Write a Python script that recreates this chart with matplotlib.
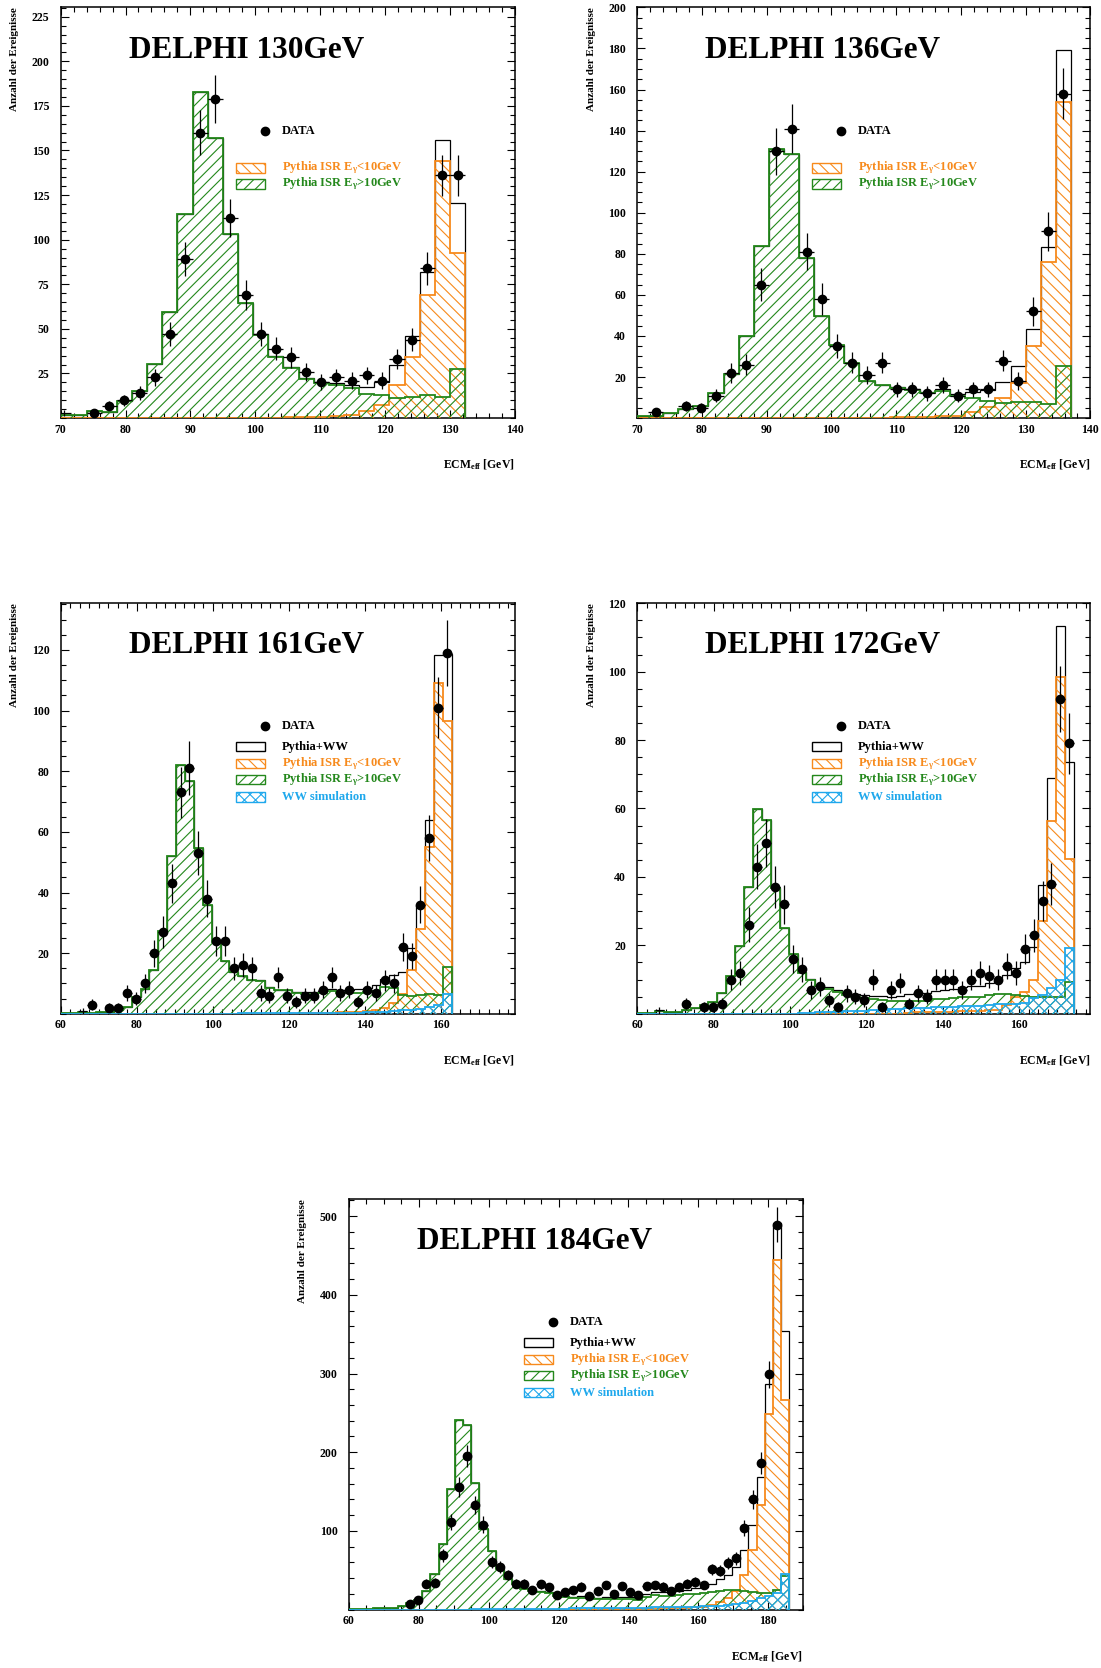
import numpy as np
import matplotlib
matplotlib.use("Agg")
import matplotlib.pyplot as plt
from matplotlib.ticker import MultipleLocator, FixedLocator
from matplotlib.patches import Rectangle

nan = np.nan

# common binning: edges at 60 GeV + k * 7/3 GeV
BIN_LO = 60.0
BIN_W = 7.0 / 3.0

# --- DELPHI 130 GeV (bins k = 4 .. 30) ---
first130 = 4
green130 = [1.5, 1.8, 3.9, 3.4, 9.5, 15.0, 30.6, 59.3, 114.5, 182.6, 157.0, 103.0, 64.5,
            46.8, 34.3, 28.0, 21.8, 19.6, 18.8, 16.8, 13.6, 12.9, 11.0, 11.8, 12.7, 12.0, 27.8]
orange130 = [0] * 13 + [0.2, 0.3, 0.4, 0.6, 0.8, 1.0, 1.5, 4.0, 7.3, 18.8, 34.0, 69.0, 144.0, 92.5]
data130 = [3, nan, 3, 7, 10, 14, 23, 47, 89, 160, 179, 112, 69, 47, 39, 34, 26, 20, 23, 21,
           24, 21, 33, 44, 84, 136, 136]
nomark130 = [0]

# --- DELPHI 136 GeV (bins k = 4 .. 32) ---
first136 = 4
green136 = [1, 1, 2.3, 4.5, 6, 12.3, 21.7, 40, 84, 131, 128.4, 77.8, 49.6, 35.8, 26.7, 18.3,
            15.9, 14.7, 13.6, 12.3, 13.1, 10.7, 9.9, 8.3, 7.5, 8, 8, 7.1, 25.4]
orange136 = [0] * 17 + [0.3, 0.5, 0.5, 1.0, 1.2, 3.0, 5.5, 10.0, 17.2, 35.3, 76.0, 154.0]
data136 = [nan, 3, nan, 6, 5, 11, 22, 26, 65, 130, 141, 81, 58, 35, 27, 21, 27, 14, 14, 12,
           16, 11, 14, 14, 28, 18, 52, 91, 158]
nomark136 = []

# --- DELPHI 161 GeV (bins k = 0 .. 43) ---
first161 = 0
green161 = [0.3, 0.3, 0.5, 0.4, 0.5, 0.7, 1.2, 2.4, 5.4, 8.2,
            14.3, 27.2, 52.2, 82.0, 76.7, 54.8, 35.8, 23.7, 17.5, 13.8,
            12.5, 11.1, 10.9, 8.6, 7.7, 7.7, 6.9, 6.6, 6.6, 6.9,
            7.5, 7.0, 7.0, 7.0, 7.2, 7.6, 8.8, 8.5, 6.3, 6.0,
            6.3, 6.6, 6.3, 15.5]
orange161 = [0] * 27 + [0.2, 0.3, 0.3, 0.4, 0.5, 0.6, 0.7, 0.8, 1.3, 1.9, 3.5, 6.5, 14.5,
                        28.0, 55.0, 109.0, 96.6]
ww161 = [0] * 20 + [0.1, 0.1, 0.15, 0.15, 0.2, 0.2, 0.2, 0.25, 0.25, 0.3, 0.3, 0.3, 0.4, 0.4,
                    0.5, 0.5, 0.7, 0.9, 1.1, 1.3, 1.6, 2.3, 3.0, 6.5]
data161 = [nan, nan, 1, 3, nan, 2, 2, 7, 5, 10,
           20, 27, 43, 73, 81, 53, 38, 24, 24, 15,
           16, 15, 7, 6, 12, 6, 4, 6, 6, 8,
           12, 7, 8, 4, 8, 7, 11, 10, 22, 19,
           36, 58, 101, 119]
nomark161 = [2]

# --- DELPHI 172 GeV (bins k = 0 .. 48) ---
first172 = 0
green172 = [0.2, 0.3, 0.8, 0.5, 0.6, 1.0, 1.6, 2.5, 3.5, 6.0,
            11.0, 19.7, 37.0, 59.8, 56.6, 36.8, 25.0, 17.6, 12.0, 10.0,
            8.0, 7.2, 6.5, 5.5, 4.9, 4.6, 4.3, 4.1, 3.6, 3.7,
            3.8, 3.8, 3.8, 4.4, 4.4, 4.6, 4.9, 5.0, 4.8, 5.5,
            5.7, 5.7, 5.5, 5.2, 5.0, 4.8, 5.0, 5.0, 9.4]
orange172 = [0] * 30 + [0.3, 0.4, 0.5, 0.5, 0.6, 0.6, 0.7, 0.8, 0.9, 1.0, 1.2, 2.6, 5.0, 6.5,
                        10.0, 27.2, 56.4, 98.5, 45.2]
ww172 = [0] * 18 + [0.2, 0.3, 0.4, 0.5, 0.6, 0.7, 0.8, 0.9, 1.0, 1.2, 1.3, 1.5, 1.6, 1.7, 1.8,
                    1.9, 2.0, 2.1, 2.2, 2.3, 2.4, 2.6, 2.8, 3.0, 3.0, 3.3, 4.6, 5.5, 7.5, 9.9, 19.1]
data172 = [nan, nan, 1, nan, nan, 3, nan, 2, 2, 3,
           10, 12, 26, 43, 50, 37, 32, 16, 13, 7,
           8, 4, 2, 6, 5, 4, 10, 2, 7, 9,
           3, 6, 5, 10, 10, 10, 7, 10, 12, 11,
           10, 14, 12, 19, 23, 33, 38, 92, 79]
nomark172 = [2]

# --- DELPHI 184 GeV (bins k = 0 .. 53) ---
first184 = 0
green184 = [1.0, 0.3, 1.0, 1.5, 2.5, 2.5, 4.6, 8.0, 12.0, 24.0,
            45.0, 83.0, 153.0, 241.0, 234.0, 161.0, 102.0, 74.5, 51.0, 38.5,
            32.0, 26.0, 23.7, 22.4, 21.6, 17.3, 16.5, 15.2, 15.2, 14.4,
            13.5, 13.5, 13.0, 13.0, 13.0, 12.7, 16.0, 18.0, 17.7, 17.3,
            18.0, 19.5, 20.3, 21.6, 22.0, 23.7, 24.5, 25.0, 24.0, 22.0,
            21.0, 21.0, 25.4, 43.0]
orange184 = [0] * 31 + [0.5, 0.6, 0.7, 0.8, 0.9, 1.0, 1.2, 1.5, 1.8, 2.0, 2.5, 3.0, 3.5,
                        6.0, 10.0, 14.0, 23.0, 43.6, 75.4, 132.5, 248.5, 444.5, 266.7]
ww184 = [0] * 15 + [0.2, 0.3, 0.3, 0.4, 0.5, 0.6, 0.7, 0.8, 0.9, 1.0, 1.1, 1.2, 1.3, 1.4, 1.5,
                    1.6, 1.7, 1.8, 1.9, 2.0, 2.2, 2.4, 2.6, 2.8, 3.0, 3.2, 3.4, 3.7, 4.0,
                    4.6, 5.0, 5.5, 6.4, 8.5, 10.6, 14.8, 17.0, 21.0, 44.5]
data184 = [nan] * 7 + [7, 12, 33, 34, 69, 111, 156, 195, 133, 108,
                       60, 54, 44, 33, 33, 25, 32, 28, 19, 22,
                       25, 29, 17, 23, 31, 20, 30, 22, 19, 30,
                       31, 29, 23, 28, 33, 35, 31, 51, 49, 59,
                       65, 103, 140, 186, 299, 489] + [nan]
nomark184 = []

ORANGE = "#F78A1C"
GREEN = "#24881C"
CYAN = "#1FA8EC"

plt.rcParams["font.family"] = ["Liberation Serif", "DejaVu Serif"]
plt.rcParams["font.weight"] = "bold"
plt.rcParams["mathtext.fontset"] = "custom"
plt.rcParams["mathtext.rm"] = "Liberation Serif:bold"
plt.rcParams["mathtext.it"] = "Liberation Serif:bold"
plt.rcParams["mathtext.bf"] = "Liberation Serif:bold"
plt.rcParams["hatch.linewidth"] = 0.8

W, H = 1101, 1668
fig = plt.figure(figsize=(W / 100, H / 100), dpi=100)


def add_axes(x0, y0, x1, y1):
    return fig.add_axes([x0 / W, 1 - y1 / H, (x1 - x0) / W, (y1 - y0) / H])


def draw_legend(ax, with_ww):
    rows = [("DATA", "k", None, None)]
    if with_ww:
        rows.append(("Pythia+WW", "k", "k", ""))
    rows.append((r"Pythia ISR E$_{\gamma}$<10GeV", ORANGE, ORANGE, "\\\\\\"))
    rows.append((r"Pythia ISR E$_{\gamma}$>10GeV", GREEN, GREEN, "///"))
    if with_ww:
        rows.append(("WW simulation", CYAN, CYAN, "xxx"))
    ys = [0.700, 0.650, 0.609, 0.570, 0.528] if with_ww else [0.700, 0.609, 0.570]
    for (label, tcol, ecol, hatch), y in zip(rows, ys):
        if ecol is None:
            ax.plot([0.45], [y], "o", color="k", ms=6, transform=ax.transAxes, clip_on=False)
        else:
            ax.add_patch(Rectangle((0.385, y - 0.011), 0.065, 0.022, transform=ax.transAxes,
                                   facecolor="none", edgecolor=ecol, hatch=hatch or None, lw=1.0))
        ax.text(0.487, y, label, transform=ax.transAxes, ha="left", va="center",
                color=tcol, fontsize=9, fontweight="bold")


def draw_panel(ax, first, green, orange, ww, data, nomark, title,
               xlim, ylim, xstep, xminor, ystep, yminor):
    green = np.asarray(green, float)
    orange = np.asarray(orange, float)
    data = np.asarray(data, float)
    edges = BIN_LO + BIN_W * (first + np.arange(len(green) + 1))
    centers = 0.5 * (edges[:-1] + edges[1:])
    total = green + orange
    if ww is not None:
        ww = np.asarray(ww, float)
        total = total + ww

    ax.stairs(total, edges, baseline=0, fill=False, color="k", lw=0.9, zorder=2)
    ax.stairs(orange, edges, baseline=0, fill=True, facecolor="none", edgecolor=ORANGE,
              hatch="\\\\\\", lw=1.3, zorder=3)
    ax.stairs(green, edges, baseline=0, fill=True, facecolor="none", edgecolor=GREEN,
              hatch="///", lw=1.3, zorder=4)
    if ww is not None:
        ax.stairs(ww, edges, baseline=0, fill=True, facecolor="none", edgecolor=CYAN,
                  hatch="xxx", lw=1.3, zorder=5)

    ok = ~np.isnan(data)
    ax.errorbar(centers[ok], data[ok], xerr=BIN_W / 2, yerr=np.sqrt(data[ok]), fmt="none",
                ecolor="k", elinewidth=0.9, capsize=0, zorder=6)
    mark = ok.copy()
    mark[nomark] = False
    ax.plot(centers[mark], data[mark], "o", color="k", ms=6, zorder=7)

    ax.set_xlim(*xlim)
    ax.set_ylim(*ylim)
    ax.xaxis.set_major_locator(MultipleLocator(xstep))
    ax.xaxis.set_minor_locator(MultipleLocator(xminor))
    ax.yaxis.set_major_locator(FixedLocator(np.arange(ystep, ylim[1] + 0.01, ystep)))
    ax.yaxis.set_minor_locator(MultipleLocator(yminor))
    ax.tick_params(which="both", direction="in", top=True, right=True, width=0.8)
    ax.tick_params(which="major", length=6, labelsize=8.5)
    ax.tick_params(which="minor", length=3.5)
    ax.tick_params(axis="y", pad=8)
    ax.tick_params(axis="x", pad=4)
    for lab in ax.get_xticklabels() + ax.get_yticklabels():
        lab.set_fontweight("bold")
    for sp in ax.spines.values():
        sp.set_linewidth(1.1)

    ax.text(0.15, 0.896, title, transform=ax.transAxes, ha="left", va="center",
            fontsize=22.5, fontweight="bold")
    ax.annotate("Anzahl der Ereignisse", xy=(0, 1), xycoords="axes fraction",
                xytext=(-46 * 0.72, 0), textcoords="offset points", rotation=90,
                ha="center", va="top", fontsize=8, fontweight="bold")
    ax.annotate(r"ECM$_{\rm eff}$ [GeV]", xy=(1, 0), xycoords="axes fraction",
                xytext=(0, -47 * 0.72), textcoords="offset points",
                ha="right", va="center", fontsize=8.5, fontweight="bold")
    draw_legend(ax, ww is not None)


ax1 = add_axes(60.6, 7.4, 514.9, 418.1)
draw_panel(ax1, first130, green130, orange130, None, data130, nomark130, "DELPHI 130GeV",
           (70, 140), (0, 230.2), 10, 2, 25, 5)

ax2 = add_axes(637.2, 7.4, 1090.4, 418.1)
draw_panel(ax2, first136, green136, orange136, None, data136, nomark136, "DELPHI 136GeV",
           (70, 140), (0, 200), 10, 2, 20, 5)

ax3 = add_axes(60.6, 603.2, 514.9, 1013.8)
draw_panel(ax3, first161, green161, orange161, ww161, data161, nomark161, "DELPHI 161GeV",
           (60, 179.3), (0, 135.4), 20, 2.5, 20, 5)

ax4 = add_axes(637.2, 603.2, 1090.4, 1013.8)
draw_panel(ax4, first172, green172, orange172, ww172, data172, nomark172, "DELPHI 172GeV",
           (60, 178.7), (0, 120), 20, 2.5, 20, 5)

ax5 = add_axes(348.9, 1198.9, 803.2, 1609.5)
draw_panel(ax5, first184, green184, orange184, ww184, data184, nomark184, "DELPHI 184GeV",
           (60, 190), (0, 522), 20, 5, 100, 20)

fig.savefig("out.png", dpi=100)
